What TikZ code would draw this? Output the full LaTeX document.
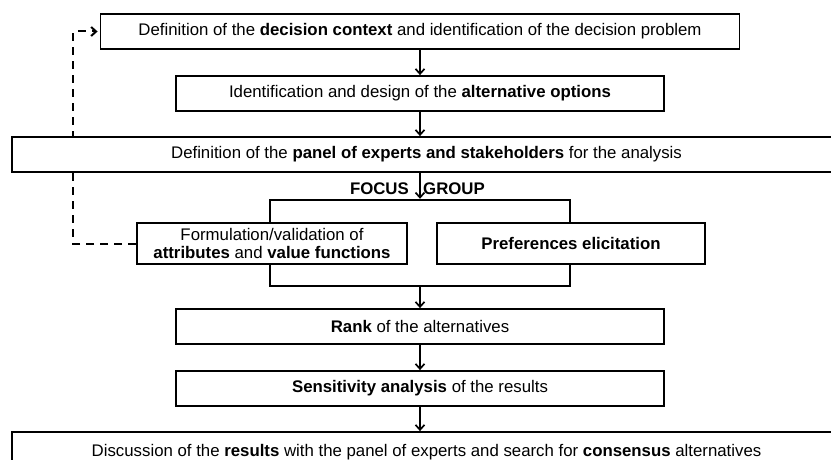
\documentclass[tikz,border=0pt]{standalone}
\usepackage{fontspec}
\setmainfont{Liberation Sans}
\usetikzlibrary{arrows.meta, positioning, calc}
\pgfdeclarelayer{background}
\pgfsetlayers{background,main}

\begin{document}
\begin{tikzpicture}[x=1pt,y=-1pt]
    \tikzset{>={Straight Barb[length=5pt,width=9pt]}}
    \tikzset{stage/.style={draw,line width=1.8pt,fill=white,inner sep=0pt,align=center,
        minimum height=35,font=\fontsize{16.8}{18.5}\selectfont}}
    \tikzset{tag/.style={inner sep=0pt,font=\fontsize{16.8}{18.5}\selectfont\bfseries}}
    \tikzset{flow/.style={->,line width=1.7pt}}
    \tikzset{feedback/.style={->,line width=2pt,dash pattern=on 8pt off 6pt,shorten >=2pt}}
    \def\bw{488}
    \def\wide{829}
    \useasboundingbox (0,0) rectangle (831,460);
    \clip (0,0) rectangle (831,460);

    \node[stage,minimum width=639] (ctx) at (420,31.5)
        {Definition of the \textbf{decision context} and identification of the decision problem};
    \node[stage,minimum width=\bw] (alt) at (420,93.5)
        {Identification and design of the \textbf{alternative options}};
    \node[stage,minimum width=\wide] (panel) at (426.5,154.5)
        {Definition of the \textbf{panel of experts and stakeholders} for the analysis};

    \node[draw,line width=2.4pt,minimum width=300,minimum height=86] (fg) at (420,243) {};
    \node[tag,anchor=east] (focus) at (409,188.5) {FOCUS};
    \node[tag,anchor=west] (group) at (423,188.5) {GROUP};
    \node[stage,minimum width=270,minimum height=41] (form) at (272,243.5)
        {Formulation/validation of\\\textbf{attributes} and \textbf{value functions}};
    \node[stage,minimum width=268,minimum height=41] (pref) at (571,243.5)
        {\textbf{Preferences elicitation}};

    \node[stage,minimum width=\bw] (rank) at (420,326.5) {\textbf{Rank} of the alternatives};
    \node[stage,minimum width=\bw] (sens) at (420,388.5)
        {\textbf{Sensitivity analysis} of the results};
    \node[stage,minimum width=\wide,minimum height=40] (disc) at (426.5,452)
        {Discussion of the \textbf{results} with the panel of experts and search for \textbf{consensus} alternatives};

    \draw[flow] (ctx) -- (alt);
    \draw[flow] (alt) -- (alt |- panel.north);
    \draw[flow] (alt |- panel.south) -- (fg);
    \draw[flow] (fg) -- (rank);
    \draw[flow] (rank) -- (sens);
    \draw[flow] (sens) -- (sens |- disc.north);

    \coordinate (loop) at (73,0);
    \begin{pgfonlayer}{background}
        \draw[feedback] (form.west) -- (form.west -| loop) |- (ctx.west);
    \end{pgfonlayer}
\end{tikzpicture}
\end{document}
